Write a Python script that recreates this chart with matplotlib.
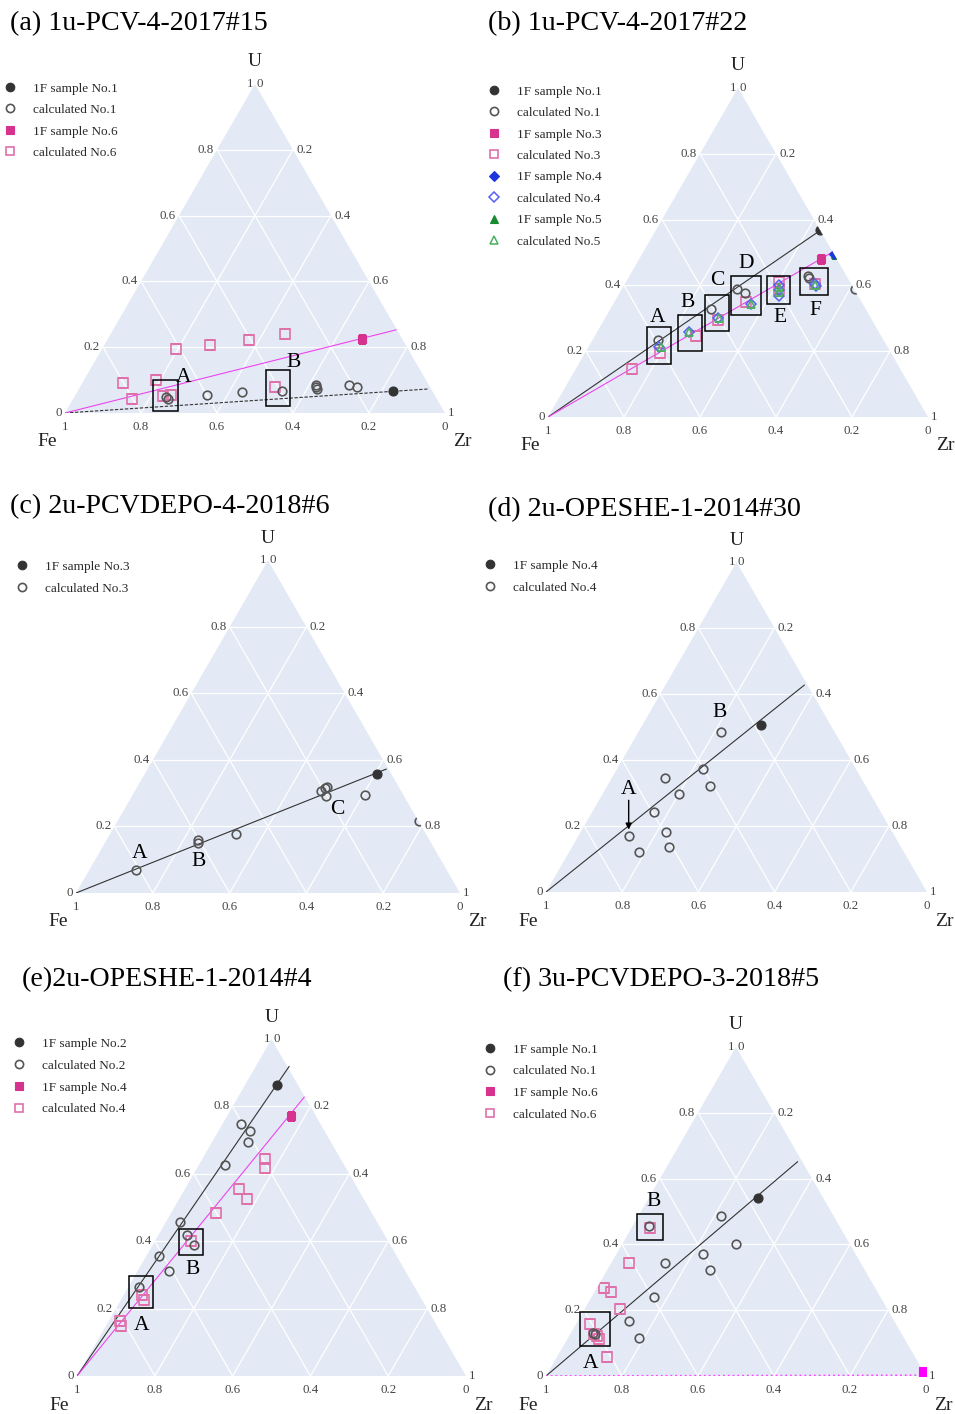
import numpy as np
import matplotlib
matplotlib.use('Agg')
import matplotlib.pyplot as plt
from matplotlib.patches import Polygon, Rectangle
from matplotlib.lines import Line2D

plt.rcParams['font.family'] = ['Liberation Serif', 'DejaVu Serif']

FIG_W, FIG_H = 955, 1414
S3 = np.sqrt(3) / 2

# ------------------------------------------------------------------
# Data: compositions given as U fraction and Zr fraction (Fe = 1-U-Zr)
# ------------------------------------------------------------------
TICK_VALUES = [0, 0.2, 0.4, 0.6, 0.8, 1.0]
TICK_LABELS = ['0', '0.2', '0.4', '0.6', '0.8', '1']

# (a) 1u-PCV-4-2017#15
A_SAMPLE1_U = [0.066]
A_SAMPLE1_ZR = [0.831]
A_CALC1_U = [0.048, 0.044, 0.056, 0.063, 0.068, 0.086, 0.079, 0.073, 0.086, 0.078]
A_CALC1_ZR = [0.241, 0.248, 0.345, 0.434, 0.536, 0.618, 0.621, 0.626, 0.705, 0.730]
A_SAMPLE6_U = [0.224]
A_SAMPLE6_ZR = [0.669]
A_CALC6_U = [0.091, 0.043, 0.099, 0.051, 0.056, 0.194, 0.207, 0.222, 0.240, 0.078]
A_CALC6_ZR = [0.108, 0.156, 0.189, 0.232, 0.250, 0.194, 0.277, 0.374, 0.459, 0.514]
A_LINE1_END = (0.073, 0.920)
A_LINE6_END = (0.253, 0.746)

# (b) 1u-PCV-4-2017#22
B_SAMPLE1_U = [0.567]
B_SAMPLE1_ZR = [0.433]
B_CALC1_U = [0.235, 0.329, 0.390, 0.377, 0.428, 0.422, 0.390]
B_CALC1_ZR = [0.172, 0.264, 0.303, 0.329, 0.470, 0.477, 0.612]
B_SAMPLE3_U = [0.479]
B_SAMPLE3_ZR = [0.480]
B_CALC3_U = [0.147, 0.195, 0.245, 0.296, 0.348, 0.410, 0.390, 0.405]
B_CALC3_ZR = [0.148, 0.196, 0.266, 0.300, 0.348, 0.403, 0.413, 0.500]
B_SAMPLE4_U = [0.496]
B_SAMPLE4_ZR = [0.504]
B_CALC4_U = [0.213, 0.258, 0.301, 0.342, 0.400, 0.385, 0.367, 0.405, 0.398]
B_CALC4_ZR = [0.185, 0.241, 0.298, 0.364, 0.408, 0.415, 0.425, 0.499, 0.505]
B_SAMPLE5_U = [0.494]
B_SAMPLE5_ZR = [0.508]
B_CALC5_U = [0.213, 0.258, 0.301, 0.342, 0.395, 0.380, 0.400]
B_CALC5_ZR = [0.190, 0.241, 0.300, 0.364, 0.410, 0.418, 0.502]
B_LINE1_END = (0.567, 0.433)
B_LINE3_END = (0.502, 0.499)

# (c) 2u-PCVDEPO-4-2018#6
C_SAMPLE3_U = [0.358]
C_SAMPLE3_ZR = [0.605]
C_CALC3_U = [0.070, 0.159, 0.151, 0.178, 0.306, 0.316, 0.319, 0.293, 0.294, 0.216]
C_CALC3_ZR = [0.122, 0.238, 0.243, 0.328, 0.486, 0.490, 0.493, 0.504, 0.605, 0.786]
C_LINE3_END = (0.373, 0.6225)

# (d) 2u-OPESHE-1-2014#30
D_SAMPLE4_U = [0.507]
D_SAMPLE4_ZR = [0.312]
D_CALC4_U = [0.485, 0.373, 0.347, 0.322, 0.297, 0.241, 0.171, 0.181, 0.120, 0.136]
D_CALC4_ZR = [0.217, 0.226, 0.138, 0.270, 0.200, 0.162, 0.133, 0.224, 0.183, 0.256]
D_LINE4_END = (0.628, 0.365)

# (e) 2u-OPESHE-1-2014#4
E_SAMPLE2_U = [0.865]
E_SAMPLE2_ZR = [0.081]
E_CALC2_U = [0.748, 0.727, 0.695, 0.625, 0.458, 0.418, 0.389, 0.356, 0.312, 0.263]
E_CALC2_ZR = [0.048, 0.082, 0.092, 0.069, 0.035, 0.074, 0.105, 0.033, 0.080, 0.028]
E_SAMPLE4_U = [0.772]
E_SAMPLE4_ZR = [0.165]
E_CALC4_U = [0.644, 0.616, 0.555, 0.525, 0.485, 0.402, 0.240, 0.227, 0.164, 0.149]
E_CALC4_ZR = [0.162, 0.176, 0.138, 0.175, 0.114, 0.093, 0.048, 0.060, 0.028, 0.039]
E_LINE2_END = (0.920, 0.086)
E_LINE4_END = (0.829, 0.1705)

# (f) 3u-PCVDEPO-3-2018#5
F_SAMPLE1_U = [0.541]
F_SAMPLE1_ZR = [0.287]
F_CALC1_U = [0.455, 0.485, 0.402, 0.372, 0.344, 0.321, 0.240, 0.167, 0.1155, 0.131, 0.127]
F_CALC1_ZR = [0.044, 0.218, 0.300, 0.227, 0.140, 0.272, 0.163, 0.136, 0.186, 0.057, 0.066]
F_SAMPLE6_U = [0.012]
F_SAMPLE6_ZR = [0.988]
F_CALC6_U = [0.451, 0.344, 0.268, 0.255, 0.203, 0.159, 0.129, 0.121, 0.113, 0.058]
F_CALC6_ZR = [0.047, 0.047, 0.018, 0.043, 0.094, 0.035, 0.061, 0.075, 0.084, 0.132]
F_LINE1_END = (0.652, 0.337)
F_LINE6_END = (0.002, 0.990)

# ------------------------------------------------------------------
# Styles
# ------------------------------------------------------------------
BG = '#E3EAF5'
TICK_COLOR = '#444444'
ST_SAMPLE_BLACK = dict(marker='o', ms=6.5, mfc='#333333', mec='#333333', mew=0.8)
ST_CALC_BLACK = dict(marker='o', ms=6.2, mfc='none', mec='#555555', mew=1.2)
ST_SAMPLE_PINK = dict(marker='s', ms=6.3, mfc='#D6338F', mec='#D6338F', mew=0.8)
ST_CALC_PINK = dict(marker='s', ms=6.7, mfc='none', mec='#E070AA', mew=1.2)
ST_SAMPLE_BLUE = dict(marker='D', ms=5.0, mfc='#1F35E0', mec='#1F35E0', mew=0.8)
ST_CALC_BLUE = dict(marker='D', ms=5.5, mfc='none', mec='#5560F0', mew=1.1)
ST_SAMPLE_GREEN = dict(marker='^', ms=5.5, mfc='#178A30', mec='#178A30', mew=0.8)
ST_CALC_GREEN = dict(marker='^', ms=6.0, mfc='none', mec='#4CAF60', mew=1.1)
ST_SAMPLE_MAGENTA = dict(marker='s', ms=6.5, mfc='#FF00FF', mec='#FF00FF', mew=0.8)

fig = plt.figure(figsize=(FIG_W / 100, FIG_H / 100), dpi=100)


def tern_xy(u, zr):
    u = np.asarray(u, float)
    zr = np.asarray(zr, float)
    return zr + u / 2, u * S3


def make_panel(fx, fy, w):
    h = w * S3
    ax = fig.add_axes([fx / FIG_W, 1 - fy / FIG_H, w / FIG_W, h / FIG_H])
    ax.set_xlim(0, 1)
    ax.set_ylim(0, S3)
    ax.set_axis_off()
    tri = Polygon([[0, 0], [1, 0], [0.5, S3]], closed=True, fc=BG, ec='none', zorder=0)
    ax.add_patch(tri)
    for v in TICK_VALUES[1:-1]:
        # constant U
        ax.plot([v / 2, 1 - v / 2], [v * S3, v * S3], color='white', lw=0.9, zorder=1)
        # constant Zr
        ax.plot([v, v + (1 - v) / 2], [0, (1 - v) * S3], color='white', lw=0.9, zorder=1)
        # constant Fe
        ax.plot([1 - v, (1 - v) / 2], [0, (1 - v) * S3], color='white', lw=0.9, zorder=1)
    px = 1.0 / w
    fs_tick = 9.3
    for v, lab in zip(TICK_VALUES, TICK_LABELS):
        # bottom axis: Fe fraction
        ax.text(1 - v, -14 * px, lab, ha='center', va='center', fontsize=fs_tick,
                color=TICK_COLOR, clip_on=False)
        # left axis: U fraction
        ax.text(v / 2 - (1.5 if v == 1 else 3) * px, v * S3, lab, ha='right', va='center',
                fontsize=fs_tick, color=TICK_COLOR, clip_on=False)
        # right axis: Zr fraction
        ax.text((1 + v) / 2 + (1.5 if v == 0 else 3) * px, (1 - v) * S3, lab, ha='left',
                va='center', fontsize=fs_tick, color=TICK_COLOR, clip_on=False)
    ax.text(0.5, S3 + 22 * px, 'U', ha='center', va='center', fontsize=14, color='#222222')
    ax.text(-18 * px, -29 * px, 'Fe', ha='center', va='center', fontsize=14, color='#222222')
    ax.text(1 + 17 * px, -29 * px, 'Zr', ha='center', va='center', fontsize=14, color='#222222')
    return ax, tri


def series(ax, tri, u, zr, style, clip=True, z=4):
    x, y = tern_xy(u, zr)
    ln, = ax.plot(x, y, ls='none', zorder=z, clip_on=True, **style)
    if clip:
        ln.set_clip_path(tri)
    return ln


def trend(ax, end, **kw):
    x, y = tern_xy([0, end[0]], [0, end[1]])
    ax.plot(x, y, zorder=3, solid_capstyle='butt', **kw)


def box(ax, x0, x1, y0, y1):
    ax.add_patch(Rectangle((x0, y0), x1 - x0, y1 - y0, fill=False, ec='black',
                           lw=1.1, zorder=6, clip_on=False))


def label(ax, x, y, s):
    ax.text(x, y, s, ha='center', va='center', fontsize=15.5, color='black', zorder=7)


def title(x, y, s):
    fig.text(x / FIG_W, 1 - y / FIG_H, s, ha='left', va='baseline', fontsize=20.2,
             color='black')


def legend(entries, marker_x, first_y, pitch):
    fs = 9.5
    fspx = fs * 100 / 72
    hl = 1.0
    pad = 23 / fspx - hl / 2
    x0 = marker_x - hl * fspx / 2
    handles = [Line2D([], [], ls='none', label=lab, **st) for lab, st in entries]
    row_h = 0.93 * fspx
    ls = (pitch - row_h) / fspx
    top = first_y - row_h / 2 + 1.5
    fig.legend(handles=handles, loc='upper left',
               bbox_to_anchor=(x0 / FIG_W, 1 - top / FIG_H),
               frameon=False, fontsize=fs, handlelength=hl, handletextpad=pad,
               borderpad=0, borderaxespad=0, labelspacing=ls, labelcolor='#2a2a2a',
               markerscale=0.95)


BLACK_LINE = dict(color='#333333', lw=0.8)
PINK_LINE = dict(color='#EE44EE', lw=0.8)

# ---------------------------- (a) ---------------------------------
ax, tri = make_panel(65, 413, 380)
trend(ax, A_LINE1_END, ls=(0, (3, 1.5)), color='#333333', lw=0.8)
trend(ax, A_LINE6_END, **PINK_LINE)
series(ax, tri, A_CALC6_U, A_CALC6_ZR, ST_CALC_PINK)
series(ax, tri, A_CALC1_U, A_CALC1_ZR, ST_CALC_BLACK)
series(ax, tri, A_SAMPLE1_U, A_SAMPLE1_ZR, ST_SAMPLE_BLACK)
series(ax, tri, A_SAMPLE6_U, A_SAMPLE6_ZR, ST_SAMPLE_PINK)
box(ax, 0.2325, 0.2965, 0.0044, 0.0877)
box(ax, 0.528, 0.592, 0.0175, 0.1123)
label(ax, 0.311, 0.0947, 'A')
label(ax, 0.601, 0.134, 'B')
title(10, 30, '(a) 1u-PCV-4-2017#15')
legend([('1F sample No.1', ST_SAMPLE_BLACK), ('calculated No.1', ST_CALC_BLACK),
        ('1F sample No.6', ST_SAMPLE_PINK), ('calculated No.6', ST_CALC_PINK)],
       10, 87, 21.5)

# ---------------------------- (b) ---------------------------------
ax, tri = make_panel(548, 417, 380)
trend(ax, B_LINE1_END, **BLACK_LINE)
trend(ax, B_LINE3_END, **PINK_LINE)
series(ax, tri, B_CALC3_U, B_CALC3_ZR, ST_CALC_PINK)
series(ax, tri, B_CALC1_U, B_CALC1_ZR, ST_CALC_BLACK)
series(ax, tri, B_CALC4_U, B_CALC4_ZR, ST_CALC_BLUE)
series(ax, tri, B_CALC5_U, B_CALC5_ZR, ST_CALC_GREEN)
series(ax, tri, B_SAMPLE1_U, B_SAMPLE1_ZR, ST_SAMPLE_BLACK)
series(ax, tri, B_SAMPLE3_U, B_SAMPLE3_ZR, ST_SAMPLE_PINK)
series(ax, tri, B_SAMPLE5_U, B_SAMPLE5_ZR, ST_SAMPLE_GREEN)
series(ax, tri, B_SAMPLE4_U, B_SAMPLE4_ZR, ST_SAMPLE_BLUE)
box(ax, 0.2605, 0.3246, 0.1404, 0.2368)
box(ax, 0.342, 0.405, 0.1728, 0.2693)
box(ax, 0.413, 0.476, 0.2254, 0.3219)
box(ax, 0.4816, 0.5596, 0.2675, 0.3702)
box(ax, 0.5763, 0.636, 0.2965, 0.3702)
box(ax, 0.664, 0.737, 0.320, 0.392)
label(ax, 0.2895, 0.263, 'A')
label(ax, 0.368, 0.3026, 'B')
label(ax, 0.4447, 0.3596, 'C')
label(ax, 0.522, 0.405, 'D')
label(ax, 0.6096, 0.2614, 'E')
label(ax, 0.7035, 0.279, 'F')
title(488, 30, '(b) 1u-PCV-4-2017#22')
legend([('1F sample No.1', ST_SAMPLE_BLACK), ('calculated No.1', ST_CALC_BLACK),
        ('1F sample No.3', ST_SAMPLE_PINK), ('calculated No.3', ST_CALC_PINK),
        ('1F sample No.4', ST_SAMPLE_BLUE), ('calculated No.4', ST_CALC_BLUE),
        ('1F sample No.5', ST_SAMPLE_GREEN), ('calculated No.5', ST_CALC_GREEN)],
       494, 90, 21.5)

# ---------------------------- (c) ---------------------------------
ax, tri = make_panel(76, 893, 384)
trend(ax, C_LINE3_END, **BLACK_LINE)
series(ax, tri, C_CALC3_U, C_CALC3_ZR, ST_CALC_BLACK)
series(ax, tri, C_SAMPLE3_U, C_SAMPLE3_ZR, ST_SAMPLE_BLACK)
label(ax, 0.165, 0.104, 'A')
label(ax, 0.32, 0.0826, 'B')
label(ax, 0.680, 0.2174, 'C')
title(10, 513, '(c) 2u-PCVDEPO-4-2018#6')
legend([('1F sample No.3', ST_SAMPLE_BLACK), ('calculated No.3', ST_CALC_BLACK)],
       22, 565, 22)

# ---------------------------- (d) ---------------------------------
ax, tri = make_panel(546, 892, 381)
trend(ax, D_LINE4_END, **BLACK_LINE)
series(ax, tri, D_CALC4_U, D_CALC4_ZR, ST_CALC_BLACK)
series(ax, tri, D_SAMPLE4_U, D_SAMPLE4_ZR, ST_SAMPLE_BLACK)
label(ax, 0.456, 0.4716, 'B')
label(ax, 0.217, 0.2703, 'A')
ax.annotate('', xy=(0.217, 0.1636), xytext=(0.217, 0.2406),
            arrowprops=dict(arrowstyle='-|>', color='black', lw=1.0,
                            mutation_scale=9, shrinkA=0, shrinkB=0), zorder=7)
title(488, 516, '(d) 2u-OPESHE-1-2014#30')
legend([('1F sample No.4', ST_SAMPLE_BLACK), ('calculated No.4', ST_CALC_BLACK)],
       490, 564, 22)

# ---------------------------- (e) ---------------------------------
ax, tri = make_panel(77, 1376, 389)
trend(ax, E_LINE2_END, **BLACK_LINE)
trend(ax, E_LINE4_END, **PINK_LINE)
series(ax, tri, E_CALC4_U, E_CALC4_ZR, ST_CALC_PINK)
series(ax, tri, E_CALC2_U, E_CALC2_ZR, ST_CALC_BLACK)
series(ax, tri, E_SAMPLE2_U, E_SAMPLE2_ZR, ST_SAMPLE_BLACK)
series(ax, tri, E_SAMPLE4_U, E_SAMPLE4_ZR, ST_SAMPLE_PINK)
box(ax, 0.1327, 0.1952, 0.1738, 0.2568)
box(ax, 0.2611, 0.3236, 0.3108, 0.3776)
label(ax, 0.167, 0.131, 'A')
label(ax, 0.296, 0.274, 'B')
title(22, 986, '(e)2u-OPESHE-1-2014#4')
legend([('1F sample No.2', ST_SAMPLE_BLACK), ('calculated No.2', ST_CALC_BLACK),
        ('1F sample No.4', ST_SAMPLE_PINK), ('calculated No.4', ST_CALC_PINK)],
       19, 1042, 22)

# ---------------------------- (f) ---------------------------------
ax, tri = make_panel(546, 1376, 380)
trend(ax, F_LINE1_END, **BLACK_LINE)
trend(ax, F_LINE6_END, ls=':', color='#FF44FF', lw=1.3)
series(ax, tri, F_CALC6_U, F_CALC6_ZR, ST_CALC_PINK)
series(ax, tri, F_CALC1_U, F_CALC1_ZR, ST_CALC_BLACK)
series(ax, tri, F_SAMPLE1_U, F_SAMPLE1_ZR, ST_SAMPLE_BLACK)
series(ax, tri, F_SAMPLE6_U, F_SAMPLE6_ZR, ST_SAMPLE_MAGENTA, clip=False)
box(ax, 0.0904, 0.1675, 0.0781, 0.1684)
box(ax, 0.2395, 0.307, 0.357, 0.427)
label(ax, 0.2833, 0.4605, 'B')
label(ax, 0.1167, 0.0342, 'A')
title(503, 986, '(f) 3u-PCVDEPO-3-2018#5')
legend([('1F sample No.1', ST_SAMPLE_BLACK), ('calculated No.1', ST_CALC_BLACK),
        ('1F sample No.6', ST_SAMPLE_PINK), ('calculated No.6', ST_CALC_PINK)],
       490, 1048, 21.7)

fig.savefig('out.png', dpi=100, facecolor='white')
